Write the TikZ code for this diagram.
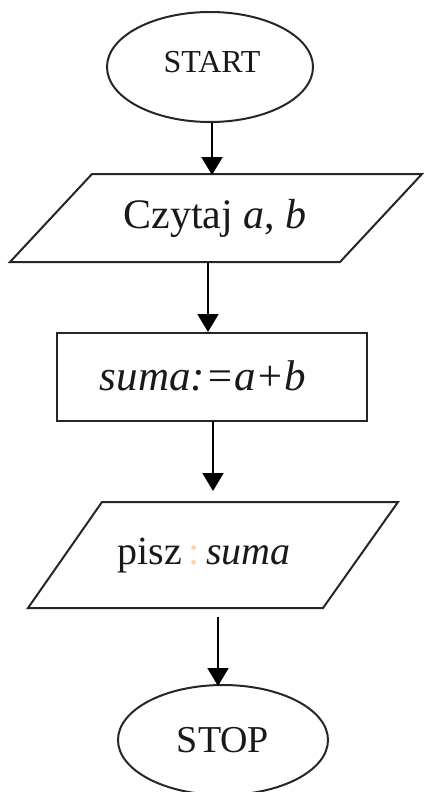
\documentclass[tikz,border=0pt]{standalone}
\usepackage{fontspec}
\setmainfont{Liberation Serif}
\usetikzlibrary{shapes.geometric,arrows.meta}
\begin{document}
\begin{tikzpicture}[x=1pt,y=-1pt,
  shapeline/.style={draw=black!85,line width=2pt},
  arr/.style={draw=black,line width=2.2pt,-{Triangle[width=21pt,length=18pt]}},
  txt/.style={inner sep=0pt,text=black!90},
  term/.style={shapeline,ellipse,inner sep=0pt}]
\useasboundingbox (0,0) rectangle (423,792);
% START
\node[term,minimum width=206pt,minimum height=110pt] (start) at (210,67) {};
\node[txt,font=\fontsize{32}{36}\selectfont] (starttxt) at (212,62) {START};
% input parallelogram
\draw[shapeline] (92,174) -- (422,174) -- (340,262) -- (10,262) -- cycle;
\node[txt,font=\fontsize{42}{48}\selectfont] (read) at (215,218) {Czytaj \textit{a}, \textit{b}};
% process box
\node[shapeline,rectangle,minimum width=310pt,minimum height=88pt] (proc) at (212,377) {};
\node[txt,font=\fontsize{43}{48}\selectfont\itshape] (proctxt) at (203,376) {suma:=a+b};
% output parallelogram
\draw[shapeline] (102,502) -- (398,502) -- (323,608) -- (28,608) -- cycle;
\node[txt,font=\fontsize{40}{46}\selectfont] (write) at (204,556) {pisz\,\textcolor{orange!35}{:}\,\textit{suma}};
% STOP
\node[term,minimum width=210pt,minimum height=110pt] (stop) at (223,740) {};
\node[txt,font=\fontsize{38}{44}\selectfont] (stoptxt) at (223,740) {STOP};
% connector end points
\coordinate (a1e) at (212,175);
\coordinate (a2s) at (208,263);
\coordinate (a3s) at (213,421);
\coordinate (a3e) at (213,491);
\coordinate (a4s) at (218,617);
\coordinate (a4e) at (218,686);
\draw[arr] (start.south -| a1e) -- (a1e);
\draw[arr] (a2s) -- (a2s |- proc.north);
\draw[arr] (a3s) -- (a3e);
\draw[arr] (a4s) -- (a4e);
\end{tikzpicture}
\end{document}
